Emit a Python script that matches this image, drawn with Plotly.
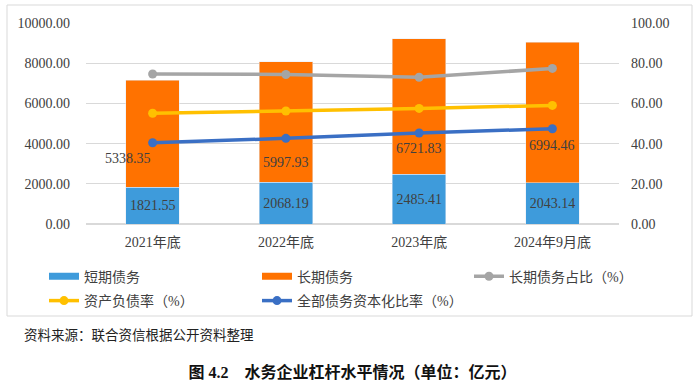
import plotly.graph_objects as go

categories = ["2021年底", "2022年底", "2023年底", "2024年9月底"]
short_debt = [1821.55, 2068.19, 2485.41, 2043.14]
long_debt = [5338.35, 5997.93, 6721.83, 6994.46]
long_ratio = [74.6, 74.4, 73.0, 77.4]
asset_liab = [55.1, 56.2, 57.5, 59.0]
cap_ratio = [40.4, 42.6, 45.3, 47.4]
left_ticks = [0, 2000, 4000, 6000, 8000, 10000]
right_ticks = [0, 20, 40, 60, 80, 100]

W, H = 700, 385
L, R, T, B = 86, 81, 23, 161
PW, PH = W - L - R, H - T - B

def px2x(px):
    return (px - L) / PW

def px2y(py):
    return (H - B - py) / PH

SERIF = "Liberation Serif, Times New Roman, Noto Sans CJK SC, serif"
TXT = "#404040"

C_BLUE = "#3E9BDB"
C_ORANGE = "#FF7200"
C_GRAY = "#A5A5A5"
C_YELLOW = "#FFC000"
C_BLINE = "#3A6FC4"

fig = go.Figure()

fig.add_trace(go.Bar(
    x=categories, y=short_debt, name="短期债务", marker_color=C_BLUE, width=0.4,
    text=[f"{v:.2f}" for v in short_debt], textposition="inside",
    insidetextanchor="middle", textangle=0,
    insidetextfont=dict(family=SERIF, size=14, color=TXT),
    showlegend=False,
))
fig.add_trace(go.Bar(
    x=categories, y=long_debt, name="长期债务", marker_color=C_ORANGE, width=0.4,
    showlegend=False,
))

def line_trace(vals, name, color, legend):
    return go.Scatter(
        x=categories, y=vals, name=name, yaxis="y2", mode="lines+markers",
        line=dict(color=color, width=3.5), marker=dict(color=color, size=9),
        legend=legend,
    )

# legend-only entries for the bars (wide rectangle symbol)
fig.add_trace(go.Scatter(x=[None], y=[None], mode="lines", name="短期债务",
                         line=dict(color=C_BLUE, width=7), legend="legend"))
fig.add_trace(go.Scatter(x=[None], y=[None], mode="lines", name="长期债务",
                         line=dict(color=C_ORANGE, width=7), legend="legend2"))
fig.add_trace(line_trace(long_ratio, "长期债务占比（%）", C_GRAY, "legend3"))
fig.add_trace(line_trace(asset_liab, "资产负债率（%）", C_YELLOW, "legend4"))
fig.add_trace(line_trace(cap_ratio, "全部债务资本化比率（%）", C_BLINE, "legend5"))

# long-term debt labels
xshift = [-25, 0, 0, 0]
yshift = [29, 20, 26, 37]
for i, c in enumerate(categories):
    fig.add_annotation(x=c, y=short_debt[i], text=f"{long_debt[i]:.2f}",
                       showarrow=False, xshift=xshift[i], yshift=yshift[i],
                       font=dict(family=SERIF, size=14, color=TXT))

# source and frame
fig.add_annotation(xref="paper", yref="paper", x=px2x(22), y=px2y(334),
                   xanchor="left", yanchor="middle", showarrow=False,
                   text="资料来源：联合资信根据公开资料整理",
                   font=dict(family="Noto Sans CJK SC", size=13.5, color="#222222"))
fig.add_shape(type="rect", xref="paper", yref="paper",
              x0=px2x(7), x1=px2x(692), y0=px2y(316), y1=px2y(5),
              line=dict(color="#D9D9D9", width=1), fillcolor="rgba(0,0,0,0)", layer="below")

def leg(px, py):
    return dict(orientation="h", x=px2x(px - 5), y=px2y(py), xanchor="left", yanchor="middle",
                bgcolor="rgba(0,0,0,0)", font=dict(family=SERIF, size=14, color=TXT))

fig.update_layout(
    width=W, height=H,
    margin=dict(l=L, r=R, t=T, b=B, pad=0),
    paper_bgcolor="white", plot_bgcolor="white",
    barmode="stack", bargap=0.6,
    font=dict(family=SERIF, size=14, color=TXT),
    title=dict(text="图 4.2    水务企业杠杆水平情况（单位：亿元）", x=0.5, xref="paper",
               xanchor="center", y=1 - 372.7 / H, yanchor="middle", yref="container",
               font=dict(family=SERIF, size=16, color="#111111", weight="bold")),
    xaxis=dict(showgrid=False, showline=False, ticks="", ticklabelstandoff=8,
               tickfont=dict(size=14, color=TXT)),
    yaxis=dict(range=[0, 10000], tickvals=left_ticks, tickformat=".2f",
               showgrid=True, gridcolor="#D9D9D9", gridwidth=1, zeroline=True,
               zerolinecolor="#D9D9D9", ticks="", ticklabelstandoff=15,
               tickfont=dict(size=14, color=TXT)),
    yaxis2=dict(range=[0, 100], tickvals=right_ticks, tickformat=".2f", overlaying="y",
                side="right", showgrid=False, zeroline=False, ticks="",
                ticklabelstandoff=11, tickfont=dict(size=14, color=TXT)),
    legend=leg(49, 276.7),
    legend2=leg(262, 276.7),
    legend3=leg(474, 276.7),
    legend4=leg(49, 301),
    legend5=leg(262, 301),
)

fig.write_html("out.html", config={"displayModeBar": False},
               post_script="document.body.style.margin='0';document.body.style.overflow='hidden';")
